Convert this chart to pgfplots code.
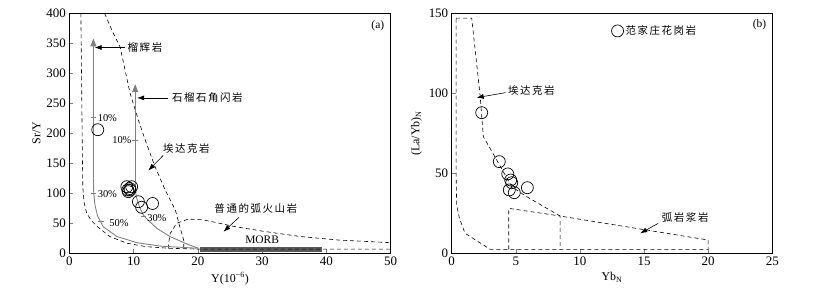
\documentclass[border=0pt]{standalone}
\usepackage{fontspec}
\setmainfont{Liberation Serif}
\newfontfamily\cjk[LetterSpace=15]{Noto Sans CJK SC}
\usepackage{pgfplots}
\pgfplotsset{compat=1.18}
\usetikzlibrary{arrows.meta}
\begin{document}
\begin{tikzpicture}
\path[use as bounding box] (0,0) rectangle (823bp,289bp);
\pgfplotsset{
 myax/.style={
  scale only axis, height=240bp,
  axis line style={line width=0.8pt},
  tick align=inside, xtick pos=bottom, ytick pos=left,
  major tick length=4bp,
  tick style={line width=0.6pt},
  tick label style={font=\fontsize{13}{13}\selectfont},
  label style={font=\fontsize{12}{12}\selectfont},
  /pgf/number format/assume math mode=true,
 },
}
\tikzset{
 dsh/.style={black, line width=0.6pt, dash pattern=on 4bp off 3bp},
 gry/.style={gray, line width=0.9pt},
 cj/.style={font=\cjk\fontsize{10.5}{10.5}\selectfont, inner sep=1pt},
 arr/.style={-{Latex[length=7bp,width=5bp]}, line width=0.6pt},
}
% ---------------- panel (a)
\begin{axis}[myax, width=321.4bp,
  at={(69.3bp,35.7bp)}, anchor=south west,
  xmin=0, xmax=50, ymin=0, ymax=400,
  xtick={0,10,...,50}, ytick={0,50,...,400},
  xlabel={Y(10\textsuperscript{−6})}, ylabel={Sr/Y},
  ylabel style={yshift=-1bp},
]
% MORB bar
\addplot[fill=black!65, draw=none] coordinates {(20.4,2.5)(39.3,2.5)(39.3,11)(20.4,11)} -- cycle;
% outer left dashed boundary
\addplot[dsh] coordinates {(1.8,400)(1.85,350)(1.9,300)(1.95,250)(2.0,200)(2.05,150)(2.1,110)(2.3,85)(2.7,67)(3.4,55)(4.3,45)(6.3,28)(8.9,17)(12,11)(15.7,8.3)(20.1,7)(30,7)(50,7)};
% adakite upper dashed boundary
\addplot[dsh] coordinates {(5.5,400)(6.7,370)(7.9,344)(9.45,267)(10.75,222)(11.8,189)(13.35,144)(14.9,106)(16.5,72)(17.2,44)(17.8,22)(17.8,8)};
% normal arc field
\addplot[dsh] coordinates {(15.4,8)(15.5,20)(15.7,33)(16.7,50)(18.5,57)(20.6,56)(23,51)(25.5,45)(30,37)(35.9,28)(42,22)(50,17.7)};
% melting trend 1
\addplot[gry, -{Triangle[length=8bp,width=6bp]}] coordinates {(3.75,125)(3.75,200)(3.75,358)};
\addplot[gry] coordinates {(3.75,125)(3.8,100)(4.0,80)(4.4,62)(5.3,44)(7.4,28)(10.5,17.8)(14.1,12)(20.1,8.3)};
% melting trend 2
\addplot[gry, -{Triangle[length=8bp,width=6bp]}] coordinates {(10.25,120)(10.25,200)(10.25,282)};
\addplot[gry] coordinates {(10.25,120)(10.4,95)(10.9,78)(11.5,64)(12.1,57)(13.6,41.7)(15.7,27.7)(18.3,15.5)(20.1,8.3)};
% percent ticks
\addplot[gray, line width=0.6pt] coordinates {(3.3,226)(4.2,226)};
\addplot[gray, line width=0.6pt] coordinates {(3.3,100)(4.2,100)};
\addplot[gray, line width=0.6pt] coordinates {(4.5,53)(5.4,53)};
\addplot[gray, line width=0.6pt] coordinates {(9.8,189)(10.7,189)};
\addplot[gray, line width=0.6pt] coordinates {(11.1,61)(12.0,61)};
\node[font=\fontsize{10.5}{10.5}\selectfont, anchor=west, inner sep=0pt] at (axis cs:4.4,226) {10\%};
\node[font=\fontsize{10.5}{10.5}\selectfont, anchor=west, inner sep=0pt] at (axis cs:4.4,98) {30\%};
\node[font=\fontsize{10.5}{10.5}\selectfont, anchor=west, inner sep=0pt] at (axis cs:6.2,51) {50\%};
\node[font=\fontsize{10.5}{10.5}\selectfont, anchor=east, inner sep=0pt] at (axis cs:9.7,189) {10\%};
\node[font=\fontsize{10.5}{10.5}\selectfont, anchor=west, inner sep=0pt] at (axis cs:12.1,58) {30\%};
% samples
\addplot[only marks, mark=o, mark size=6bp, mark options={line width=0.7pt, black}] coordinates {
(4.43,206)(8.95,111)(9.45,105.5)(9.2,102.7)(9.7,111)(9.1,105.5)(9.4,108)(10.75,86)(11.25,76.7)(12.95,83)};
% annotations
\draw[arr] (axis cs:8.6,343) -- (axis cs:3.95,343);
\node[cj, anchor=west] at (axis cs:8.9,343) {榴辉岩};
\draw[arr] (axis cs:15.3,259) -- (axis cs:10.55,259);
\node[cj, anchor=west] at (axis cs:15.8,259) {石榴石角闪岩};
\draw[arr] (axis cs:14.6,163) -- (axis cs:12.3,138);
\node[cj, anchor=west] at (axis cs:14.4,174) {埃达克岩};
\draw[arr] (axis cs:26.4,60) -- (axis cs:24,36);
\node[cj, anchor=west] at (axis cs:22.4,75) {普通的弧火山岩};
\node[font=\fontsize{11.5}{11.5}\selectfont] at (axis cs:30,22) {MORB};
\node[font=\fontsize{11.5}{11.5}\selectfont] at (axis cs:48,380) {(a)};
\end{axis}
% ---------------- panel (b)
\begin{axis}[myax, width=320.6bp,
  at={(451.7bp,35.7bp)}, anchor=south west,
  xmin=0, xmax=25, ymin=0, ymax=150,
  xtick={0,5,...,25}, ytick={0,50,100,150},
  xlabel={Yb\textsubscript{N}}, ylabel={(La/Yb)\textsubscript{N}},
  legend style={draw=none, fill=none, at={(axis cs:12.45,139)}, anchor=west,
    font=\cjk\fontsize{10.5}{10.5}\selectfont, inner sep=0pt,
    legend cell align=left},
  legend image code/.code={\draw[mark size=6bp, line width=0.7pt] plot coordinates {(0.25cm,0cm)};},
]
\addplot[only marks, mark=o, mark size=6bp, mark options={line width=0.7pt, black}] coordinates {
(2.34,87.9)(3.71,57.3)(4.37,49.6)(4.6,45.8)(4.68,44.1)(4.49,39.6)(4.88,37.9)(5.9,41.0)};
\addlegendentry{范家庄花岗岩}
\addplot[dsh] coordinates {(0.34,147)(1.56,147)(2.21,99)(2.47,72.9)(3.51,58.3)(4.68,41.6)(5.85,35.4)(8.45,23.3)(20,8.3)(20,2.5)(3.0,2.5)(1.04,12.5)(0.6,22)(0.39,30)(0.34,50)(0.34,147)};
\addplot[dsh] coordinates {(4.45,2.5)(4.45,28.1)(8.45,23.3)(8.45,2.5)};
\draw[arr] (axis cs:4.2,100.4) -- (axis cs:1.95,97.3);
\node[cj, anchor=west] at (axis cs:4.3,102) {埃达克岩};
\draw[arr] (axis cs:16.1,18.7) -- (axis cs:14.7,12.5);
\node[cj, anchor=west] at (axis cs:16.3,22.5) {弧岩浆岩};
\node[font=\fontsize{11.5}{11.5}\selectfont] at (axis cs:24.0,142.7) {(b)};
\end{axis}
\end{tikzpicture}
\end{document}
